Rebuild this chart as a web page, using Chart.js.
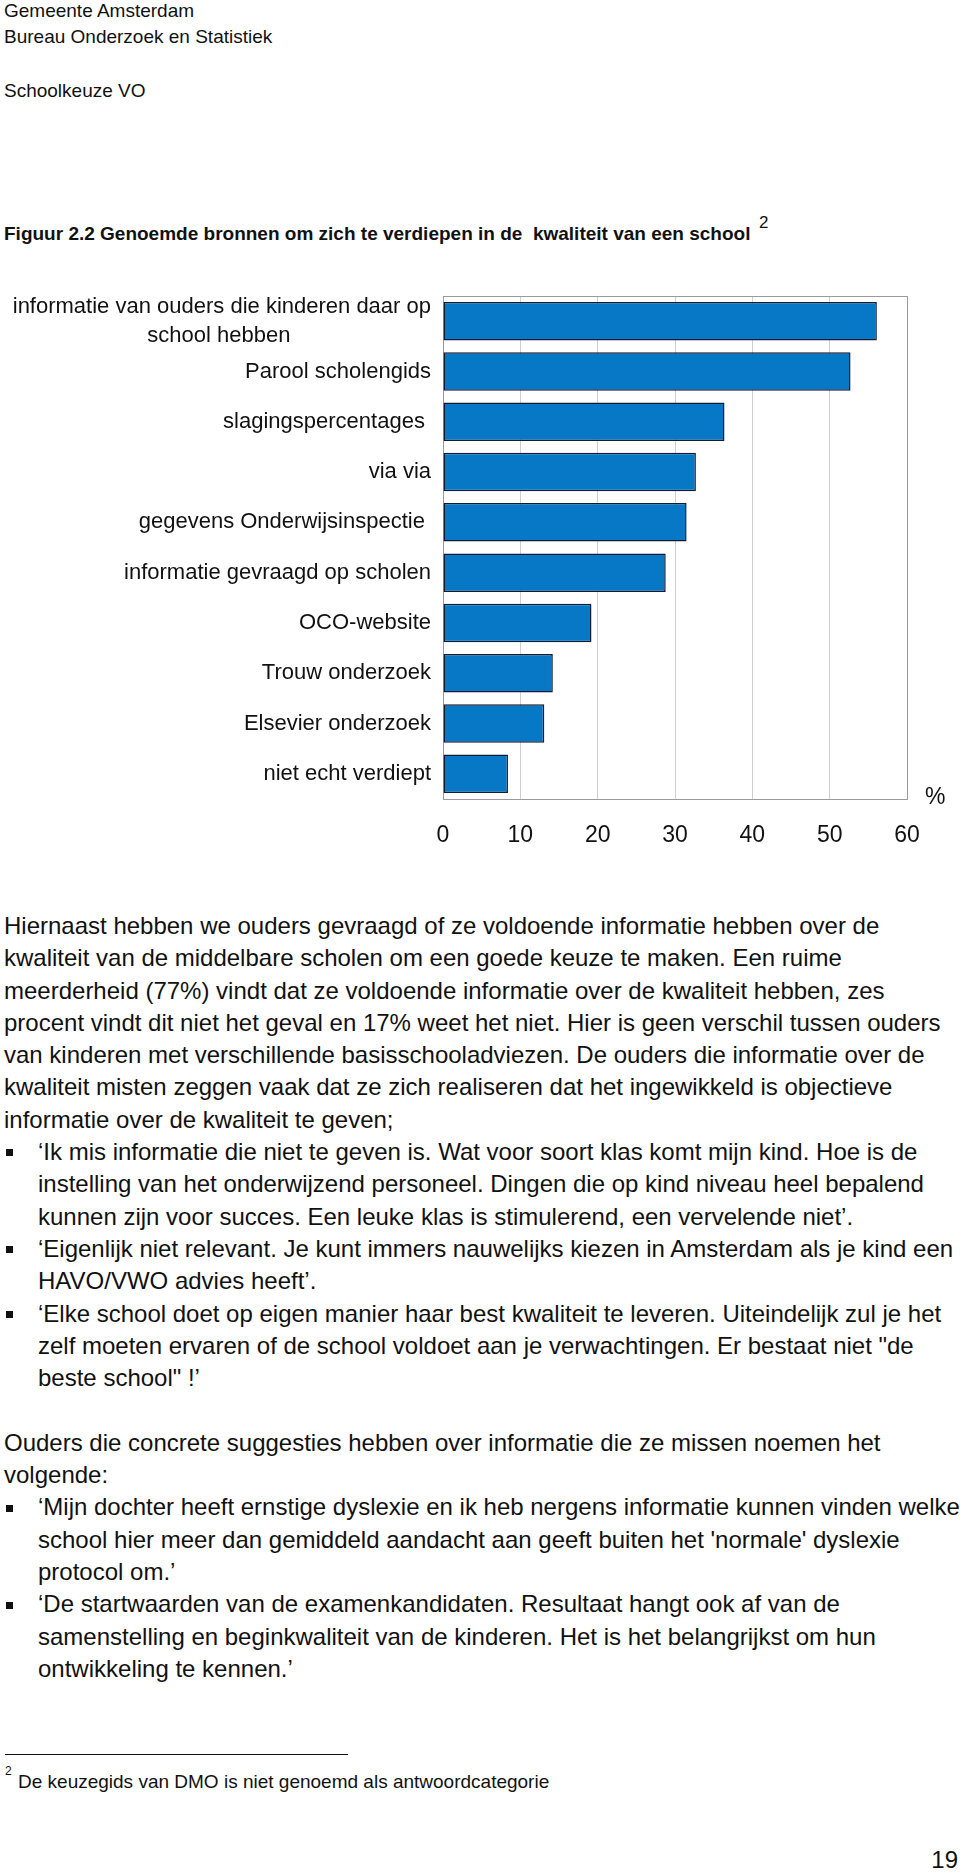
<!DOCTYPE html>
<html><head><meta charset="utf-8">
<script src="https://cdn.jsdelivr.net/npm/chart.js@4.4.1/dist/chart.umd.min.js"></script>
<style>
html,body{margin:0;padding:0;background:#fff;}
body{width:960px;height:1874px;position:relative;overflow:hidden;font-family:"Liberation Sans",Arial,sans-serif;color:#111;}
.t{position:absolute;white-space:nowrap;line-height:1;}
.bul{position:absolute;width:7px;height:7px;background:#111;}
#wrap{position:absolute;left:0;top:280px;width:960px;height:580px;}
#rule{position:absolute;left:5px;top:1754px;width:343px;height:1px;background:#111;}
</style>
</head><body>
<div id="wrap"><canvas id="c" width="960" height="580"></canvas></div>
<div id="rule"></div>
<script>
// ---- chart data ----
const categories = [
  ["informatie van ouders die kinderen daar op", "school hebben                       "],
  "Parool scholengids",
  "slagingspercentages ",
  "via via",
  "gegevens Onderwijsinspectie ",
  "informatie gevraagd op scholen",
  "OCO-website",
  "Trouw onderzoek",
  "Elsevier onderzoek",
  "niet echt verdiept"
];
const percentages = [56.1, 52.7, 36.4, 32.7, 31.5, 28.8, 19.2, 14.2, 13.1, 8.4];
const xTickMin = 0, xTickMax = 60, xTickStep = 10;

// ---- page text ----
const headerLines = [
  ["Gemeente Amsterdam", 4, 16.7],
  ["Bureau Onderzoek en Statistiek", 4, 42.7],
  ["Schoolkeuze VO", 4, 96.7]
];
const titleText = "Figuur 2.2 Genoemde bronnen om zich te verdiepen in de\u00a0 kwaliteit van een school";
const bodyLines = [
  [0,"Hiernaast hebben we ouders gevraagd of ze voldoende informatie hebben over de"],
  [0,"kwaliteit van de middelbare scholen om een goede keuze te maken. Een ruime"],
  [0,"meerderheid (77%) vindt dat ze voldoende informatie over de kwaliteit hebben, zes"],
  [0,"procent vindt dit niet het geval en 17% weet het niet. Hier is geen verschil tussen ouders"],
  [0,"van kinderen met verschillende basisschooladviezen. De ouders die informatie over de"],
  [0,"kwaliteit misten zeggen vaak dat ze zich realiseren dat het ingewikkeld is objectieve"],
  [0,"informatie over de kwaliteit te geven;"],
  [2,"\u2018Ik mis informatie die niet te geven is. Wat voor soort klas komt mijn kind. Hoe is de"],
  [1,"instelling van het onderwijzend personeel. Dingen die op kind niveau heel bepalend"],
  [1,"kunnen zijn voor succes. Een leuke klas is stimulerend, een vervelende niet\u2019."],
  [2,"\u2018Eigenlijk niet relevant. Je kunt immers nauwelijks kiezen in Amsterdam als je kind een"],
  [1,"HAVO/VWO advies heeft\u2019."],
  [2,"\u2018Elke school doet op eigen manier haar best kwaliteit te leveren. Uiteindelijk zul je het"],
  [1,"zelf moeten ervaren of de school voldoet aan je verwachtingen. Er bestaat niet \"de"],
  [1,"beste school\" !\u2019"],
  [0,""],
  [0,"Ouders die concrete suggesties hebben over informatie die ze missen noemen het"],
  [0,"volgende:"],
  [2,"\u2018Mijn dochter heeft ernstige dyslexie en ik heb nergens informatie kunnen vinden welke"],
  [1,"school hier meer dan gemiddeld aandacht aan geeft buiten het 'normale' dyslexie"],
  [1,"protocol om.\u2019"],
  [2,"\u2018De startwaarden van de examenkandidaten. Resultaat hangt ook af van de"],
  [1,"samenstelling en beginkwaliteit van de kinderen. Het is het belangrijkst om hun"],
  [1,"ontwikkeling te kennen.\u2019"]
];

function place(text, x, baseline, size, weight, right) {
  const d = document.createElement('div');
  d.className = 't';
  d.textContent = text;
  d.style.fontSize = size + 'px';
  if (weight) d.style.fontWeight = weight;
  d.style.top = (baseline - 0.8465 * size) + 'px';
  if (right !== undefined) { d.style.right = right + 'px'; } else { d.style.left = x + 'px'; }
  document.body.appendChild(d);
  return d;
}
headerLines.forEach(h => place(h[0], h[1], h[2], 19));
place(titleText, 4, 240, 19, 'bold');
place("2", 759, 228, 17);
const bodyBase = 934.3, bodyStep = 32.3;
bodyLines.forEach((l, i) => {
  const b = bodyBase + i * bodyStep;
  if (!l[1]) return;
  place(l[1], l[0] ? 38 : 4, b, 24);
  if (l[0] === 2) {
    const s = document.createElement('div');
    s.className = 'bul';
    s.style.left = '6px';
    s.style.top = (b - 11) + 'px';
    document.body.appendChild(s);
  }
});
place("2", 5, 1775.5, 12);
place("De keuzegids van DMO is niet genoemd als antwoordcategorie", 18, 1788, 19);
place("19", 0, 1868, 24, null, 2);
place("%", 925, 804, 23);

// ---- chart ----
const framePlugin = {
  id: 'frame',
  beforeDatasetsDraw(chart) {
    const a = chart.chartArea, ctx = chart.ctx;
    ctx.save();
    ctx.strokeStyle = '#9a9a9a';
    ctx.lineWidth = 1;
    ctx.beginPath();
    ctx.moveTo(a.left, Math.round(a.top) + 0.5);
    ctx.lineTo(a.right, Math.round(a.top) + 0.5);
    ctx.stroke();
    ctx.restore();
  }
};

new Chart(document.getElementById('c'), {
  type: 'bar',
  data: {
    labels: categories,
    datasets: [{
      data: percentages,
      backgroundColor: '#0678c6',
      borderColor: '#0e1c38',
      borderWidth: 1.5,
      borderSkipped: false,
      barPercentage: 0.765,
      categoryPercentage: 1
    }]
  },
  options: {
    indexAxis: 'y',
    responsive: false,
    animation: false,
    devicePixelRatio: 1,
    layout: { padding: { left: 0, right: 53, top: 16, bottom: 0 } },
    plugins: { legend: { display: false }, tooltip: { enabled: false } },
    scales: {
      x: {
        min: xTickMin, max: xTickMax,
        ticks: { stepSize: xTickStep, color: '#111', padding: 23,
          font: { family: 'Liberation Sans', size: 23 } },
        grid: { drawTicks: false,
          color: ctx => (ctx.index === 0 || ctx.index === 6) ? '#9a9a9a' : '#cfcfcf',
          lineWidth: 1 },
        border: { display: true, color: '#9a9a9a', width: 1 },
        afterFit: s => { s.height = 61; s.paddingLeft = 0; s.paddingRight = 0; }
      },
      y: {
        ticks: { color: '#111', padding: 12, autoSkip: false,
          font: { family: 'Liberation Sans', size: 22, lineHeight: 1.3 } },
        grid: { display: false, drawTicks: false },
        border: { display: true, color: '#9a9a9a', width: 1 },
        afterFit: s => { s.width = 443; s.paddingTop = 0; s.paddingBottom = 0; }
      }
    }
  },
  plugins: [framePlugin]
});
</script>
</body></html>
